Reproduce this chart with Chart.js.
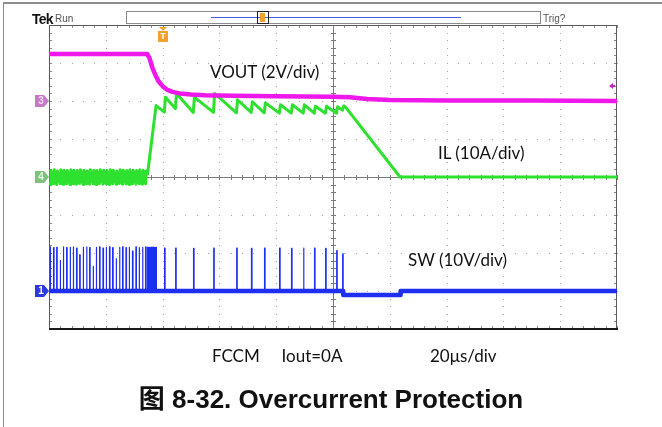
<!DOCTYPE html>
<html>
<head>
<meta charset="utf-8">
<title>Overcurrent Protection</title>
<script src="https://cdn.jsdelivr.net/npm/chart.js@4/dist/chart.umd.min.js"></script>
<style>
  html, body { margin: 0; padding: 0; background: #fff; }
  #wrap { position: relative; width: 662px; height: 427px; overflow: hidden; }
  #scope { position: absolute; left: 0; top: 0; }
  .lbl { position: absolute; white-space: nowrap; line-height: 1; color: #111; }
  .calibri { font-family: Lato, "Open Sans", sans-serif; font-size: 17px; }
  #tek { left: 32px; top: 11px; font: bold 14px "Liberation Sans Narrow", "Liberation Sans", sans-serif; color: #111; letter-spacing: -0.8px; }
  #run { left: 55px; top: 13px; font: 10px "Liberation Sans Narrow", "Liberation Sans", sans-serif; color: #555; }
  #trig { left: 543px; top: 13px; font: 10px "Liberation Sans Narrow", "Liberation Sans", sans-serif; color: #555; }
  #vout { left: 210px; top: 63px; }
  #il   { left: 438px; top: 144px; }
  #sw   { left: 408px; top: 251px; }
  #mode { left: 212px; top: 347px; }
  #tdiv { left: 430px; top: 347px; }
  #caption { left: 0; width: 662px; text-align: center; top: 378px;
             font: bold 26px "Liberation Sans", Arial, "Noto Sans CJK SC", sans-serif; color: #111; }
</style>
</head>
<body>
<div id="wrap">
  <canvas id="scope" width="662" height="427"></canvas>
  <div class="lbl" id="tek">Tek</div>
  <div class="lbl" id="run">Run</div>
  <div class="lbl" id="trig">Trig?</div>
  <div class="lbl calibri" id="vout">VOUT (2V/div)</div>
  <div class="lbl calibri" id="il">IL (10A/div)</div>
  <div class="lbl calibri" id="sw">SW (10V/div)</div>
  <div class="lbl calibri" id="mode">FCCM&nbsp;&nbsp;&nbsp;&nbsp; Iout=0A</div>
  <div class="lbl calibri" id="tdiv">20μs/div</div>
  <div class="lbl" id="caption"><span style="font-family:'Noto Sans CJK SC',sans-serif;font-weight:bold;">图</span> 8-32. Overcurrent Protection</div>
</div>
<script>
// ---- Time base: 20 µs/div over 10 divisions, trigger point 2 divisions in ----
const timeMinUs = -40;
const timeMaxUs = 160;
const timePerDivUs = 20;

// ---- Vertical settings: units per division and ground-marker offset (div from centre) ----
const voutVoltsPerDiv = 2,  voutOffsetDiv = 2;
const ilAmpsPerDiv    = 10, ilOffsetDiv   = 0;
const swVoltsPerDiv   = 10, swOffsetDiv   = -3;
const trigLevelVolts  = 0.8;

// ---- VOUT (channel 3) ----
const voutTimeUs = [-40, -5.4, -4.6, -3.6, -2.5, -1.5, 0, 1.5, 3.5, 6, 10, 15, 25, 40, 60, 66, 72, 80, 100, 130, 160];
const voutVolts  = [2.47, 2.47, 2.25, 1.75, 1.35, 1.05, 0.78, 0.6, 0.48, 0.4, 0.34, 0.3, 0.27, 0.25, 0.22, 0.2, 0.1, 0.05, 0.03, 0.02, 0.0];

// ---- Inductor current IL (channel 4) ----
const ilTimeUs = [
  -40, -39.6, -39.35, -38.4, -38.15, -37.3, -37.05, -36.1, -35.85, -35.0, -34.75,
  -33.8, -33.55, -32.6, -32.35, -31.5, -31.25, -30.3, -30.05, -29.2, -28.95,
  -28.0, -27.75, -26.8, -26.55, -25.7, -25.45, -24.5, -24.25, -23.4, -23.15,
  -22.2, -21.95, -21.0, -20.75, -19.9, -19.65, -18.7, -18.45, -17.6, -17.35,
  -16.4, -16.15, -15.2, -14.95, -14.1, -13.85, -12.9, -12.65, -11.8, -11.55,
  -10.6, -10.35, -9.4, -9.15, -8.3, -8.05, -7.1, -6.85, -6.0, -5.75,
  -5.3, -2.3, 0.6, 1.0, 4.5, 4.9, 10.8, 11.2, 17.9, 18.3, 26.0, 26.4,
  31.2, 31.6, 35.8, 36.2, 41.1, 41.5, 45.3, 45.7, 49.5, 49.9, 53.4, 53.8,
  57.3, 57.7, 61.2, 61.6, 63.3, 63.8, 64.3, 83.6, 160
];
const ilAmps = [
  -1.4, -1.9, 1.7, -1.8, 1.9, -2.0, 1.6, -1.7, 1.9, -1.9, 1.8,
  -1.8, 1.7, -2.0, 1.9, -1.8, 1.8, -1.9, 1.7, -1.7, 1.9,
  -2.0, 1.8, -1.8, 1.6, -1.9, 1.9, -1.8, 1.8, -2.0, 1.7,
  -1.7, 1.9, -1.9, 1.8, -1.8, 1.7, -2.0, 1.9, -1.8, 1.8,
  -1.9, 1.6, -1.7, 1.9, -1.9, 1.8, -1.8, 1.7, -2.0, 1.9,
  -1.8, 1.8, -1.9, 1.7, -1.7, 1.9, -1.9, 1.8, -1.8, 1.6,
  0.8, 18.8, 17.1, 21.0, 18.0, 22.0, 17.0, 21.0, 17.0, 22.0, 16.9, 20.3,
  17.0, 19.8, 16.9, 19.5, 16.8, 19.0, 16.8, 19.0, 16.8, 19.0, 16.8, 18.6,
  16.8, 18.6, 16.8, 18.5, 17.6, 18.7, 18.5, 0.0, 0.0
];

// ---- Switch node SW (channel 1): pulse start times and pulse tops ----
const swPulseTimeUs = [
  -39.6, -38.4, -37.3, -36.1, -35.0, -33.8, -32.6, -31.5, -30.3, -29.2,
  -28.0, -26.8, -25.7, -24.5, -23.4, -22.2, -21.0, -19.9, -18.7, -17.6,
  -16.4, -15.2, -14.1, -12.9, -11.8, -10.6, -9.4, -8.3, -7.1, -6.0,
  -5.3, -5.0, -4.7, -4.4, -4.1, -3.8, -3.5, -3.2, -2.9, -2.6, -2.3,
  0.7, 4.6, 10.9, 18.0, 26.1, 31.3, 35.9, 41.2, 45.4, 49.6, 53.5, 57.4, 61.3, 63.4
];
const swPulseVolts = [
  11.6, 11.4, 11.5, 8.0, 11.6, 11.4, 11.5, 11.6, 11.3, 9.5,
  11.5, 11.6, 11.4, 6.5, 11.5, 11.6, 11.3, 11.5, 11.6, 11.4,
  8.5, 11.5, 11.6, 11.4, 11.5, 10.5, 11.6, 11.4, 11.5, 11.6,
  11.5, 11.5, 11.5, 11.5, 11.5, 11.5, 11.5, 11.5, 11.5, 11.5, 11.5,
  11.3, 11.3, 11.2, 11.3, 11.3, 11.2, 11.3, 11.3, 11.2, 11.3, 11.3, 11.2, 10.6, 9.8
];
const swPulseWidthUs = 0.18;
// SW resting level: 0 V while switching, body-diode level while IL decays
const swBaseTimeUs = [-40, 63.6, 63.6, 83.8, 83.8, 160];
const swBaseVolts  = [0, 0, -1.05, -1.05, 0, 0];

// ---- Colours ----
const magenta = '#ee18ea';
const green   = '#2fe12f';
const blue    = '#1f2ff2';
const orange  = '#f2a22c';

function pairs(xs, ys) { return xs.map((x, i) => ({ x, y: ys[i] })); }
function pulses(ts, vs, w) {
  const pts = [];
  ts.forEach((t, i) => {
    pts.push({ x: t, y: 0 }, { x: t, y: vs[i] }, { x: t + w, y: vs[i] }, { x: t + w, y: 0 });
  });
  return pts;
}
function axisRange(perDiv, offsetDiv) {
  return { min: (-4 - offsetDiv) * perDiv, max: (4 - offsetDiv) * perDiv };
}

// Tek-style graticule: dotted division lines, solid centre cross and tick marks
const graticule = {
  id: 'graticule',
  beforeDatasetsDraw(chart) {
    const { ctx, chartArea: a, scales } = chart;
    const xs = scales.x, yd = scales.yI;
    const majX = [], minX = [], majY = [], minY = [];
    for (let t = timeMinUs; t <= timeMaxUs + 1e-6; t += timePerDivUs / 5) {
      const p = Math.round(xs.getPixelForValue(t));
      minX.push(p);
      if (Math.abs(((t - timeMinUs) / timePerDivUs) % 1) < 1e-6) majX.push(p);
    }
    for (let v = -4 * ilAmpsPerDiv; v <= 4 * ilAmpsPerDiv + 1e-6; v += ilAmpsPerDiv / 5) {
      const p = Math.round(yd.getPixelForValue(v));
      minY.push(p);
      if (Math.abs((v / ilAmpsPerDiv) % 1) < 1e-6) majY.push(p);
    }
    const cx = Math.round(xs.getPixelForValue((timeMinUs + timeMaxUs) / 2));
    const cy = Math.round(yd.getPixelForValue(0));
    ctx.save();
    // dotted division lines
    ctx.fillStyle = '#a8a8a8';
    majX.forEach(x => { if (x > a.left + 2 && x < a.right - 2 && x !== cx) minY.forEach(y => ctx.fillRect(x, y, 1, 1)); });
    majY.forEach(y => { if (y > a.top + 2 && y < a.bottom - 2 && y !== cy) minX.forEach(x => ctx.fillRect(x, y, 1, 1)); });
    // centre cross
    ctx.fillStyle = '#7a7a7a';
    ctx.fillRect(cx, a.top, 1, a.bottom - a.top);
    ctx.fillRect(a.left, cy, a.right - a.left, 1);
    minY.forEach(y => ctx.fillRect(cx - 2, y, 5, 1));
    minX.forEach(x => ctx.fillRect(x, cy - 2, 1, 5));
    // border ticks
    ctx.fillStyle = '#8a8a8a';
    minX.forEach(x => { ctx.fillRect(x, a.top, 1, 3); ctx.fillRect(x, a.bottom - 3, 1, 3); });
    minY.forEach(y => { ctx.fillRect(a.left, y, 3, 1); ctx.fillRect(a.right - 3, y, 3, 1); });
    // border
    ctx.strokeStyle = '#5a5a5a';
    ctx.lineWidth = 1;
    ctx.strokeRect(a.left + 0.5, a.top + 0.5, a.right - a.left - 1, a.bottom - a.top - 1);
    ctx.fillStyle = '#1a1a1a';
    ctx.fillRect(a.left, a.bottom - 1, a.right - a.left + 1, 2);
    ctx.restore();
  }
};

// Channel ground markers, trigger markers, record bar and the outer frame
const markers = {
  id: 'markers',
  afterDatasetsDraw(chart) {
    const { ctx, chartArea: a, scales } = chart;
    ctx.save();
    // outer frame (top and left)
    ctx.fillStyle = '#8c8c8c';
    ctx.fillRect(3, 2, 662, 2);
    ctx.fillRect(3, 2, 1, 427);

    function badge(y, fill, txt, label) {
      y = Math.round(y);
      ctx.fillStyle = fill;
      ctx.beginPath();
      ctx.moveTo(35, y - 6);
      ctx.lineTo(44, y - 6);
      ctx.lineTo(49, y);
      ctx.lineTo(44, y + 6);
      ctx.lineTo(35, y + 6);
      ctx.closePath();
      ctx.fill();
      ctx.fillStyle = txt;
      ctx.font = 'bold 10px "Liberation Sans", sans-serif';
      ctx.textAlign = 'center';
      ctx.textBaseline = 'middle';
      ctx.fillText(label, 41, y + 0.5);
    }
    badge(scales.yV.getPixelForValue(0), '#c57ac6', '#f4d8f4', '3');
    badge(scales.yI.getPixelForValue(0), '#7cc27c', '#e2f6e2', '4');
    badge(scales.yS.getPixelForValue(0), '#2a3ae0', '#ffffff', '1');

    // trigger position marker
    const tx = Math.round(scales.x.getPixelForValue(0));
    ctx.fillStyle = orange;
    ctx.beginPath();
    ctx.moveTo(tx - 4, a.top + 2);
    ctx.lineTo(tx + 4, a.top + 2);
    ctx.lineTo(tx, a.top + 6);
    ctx.closePath();
    ctx.fill();
    ctx.fillRect(tx - 5, a.top + 6, 10, 11);
    ctx.fillStyle = '#fff';
    ctx.font = 'bold 9px "Liberation Sans", sans-serif';
    ctx.textAlign = 'center';
    ctx.textBaseline = 'middle';
    ctx.fillText('T', tx, a.top + 12);

    // trigger level marker on the right edge
    const ty = Math.round(scales.yV.getPixelForValue(trigLevelVolts));
    ctx.fillStyle = '#c22ac4';
    ctx.beginPath();
    ctx.moveTo(a.right - 8, ty);
    ctx.lineTo(a.right - 4, ty - 3);
    ctx.lineTo(a.right - 4, ty + 3);
    ctx.closePath();
    ctx.fill();
    ctx.fillRect(a.right - 5, ty - 1, 3, 2);

    // record view bar
    ctx.strokeStyle = '#8a8a8a';
    ctx.lineWidth = 1;
    ctx.strokeRect(126.5, 11.5, 414, 12);
    ctx.fillStyle = '#4a5ae6';
    ctx.fillRect(211, 17, 250, 1);
    ctx.strokeStyle = '#222';
    ctx.strokeRect(257.5, 11.5, 11, 12);
    ctx.fillStyle = orange;
    ctx.fillRect(260, 13, 5, 9);
    ctx.restore();
  }
};

const voutAxis = axisRange(voutVoltsPerDiv, voutOffsetDiv);
const ilAxis   = axisRange(ilAmpsPerDiv, ilOffsetDiv);
const swAxis   = axisRange(swVoltsPerDiv, swOffsetDiv);

new Chart(document.getElementById('scope'), {
  type: 'line',
  data: {
    datasets: [
      { label: 'VOUT', data: pairs(voutTimeUs, voutVolts), yAxisID: 'yV', borderColor: magenta, borderWidth: 4.5, order: 0 },
      { label: 'IL', data: pairs(ilTimeUs, ilAmps), yAxisID: 'yI', borderColor: green, borderWidth: 3, order: 1 },
      { label: 'SW', data: pairs(swBaseTimeUs, swBaseVolts), yAxisID: 'yS', borderColor: blue, borderWidth: 4.5, order: 2 },
      { label: 'SW pulses', data: pulses(swPulseTimeUs, swPulseVolts, swPulseWidthUs), yAxisID: 'yS', borderColor: blue, borderWidth: 1.2, order: 3 }
    ]
  },
  options: {
    responsive: false,
    animation: false,
    devicePixelRatio: 1,
    parsing: true,
    layout: { padding: { left: 49, right: 45, top: 25, bottom: 98 } },
    elements: { point: { radius: 0 }, line: { tension: 0, fill: false, borderJoinStyle: 'round' } },
    plugins: { legend: { display: false }, tooltip: { enabled: false }, title: { display: false } },
    scales: {
      x:  { type: 'linear', min: timeMinUs, max: timeMaxUs, display: false },
      yV: { type: 'linear', min: voutAxis.min, max: voutAxis.max, display: false },
      yI: { type: 'linear', min: ilAxis.min, max: ilAxis.max, display: false },
      yS: { type: 'linear', min: swAxis.min, max: swAxis.max, display: false }
    }
  },
  plugins: [graticule, markers]
});
</script>
</body>
</html>
